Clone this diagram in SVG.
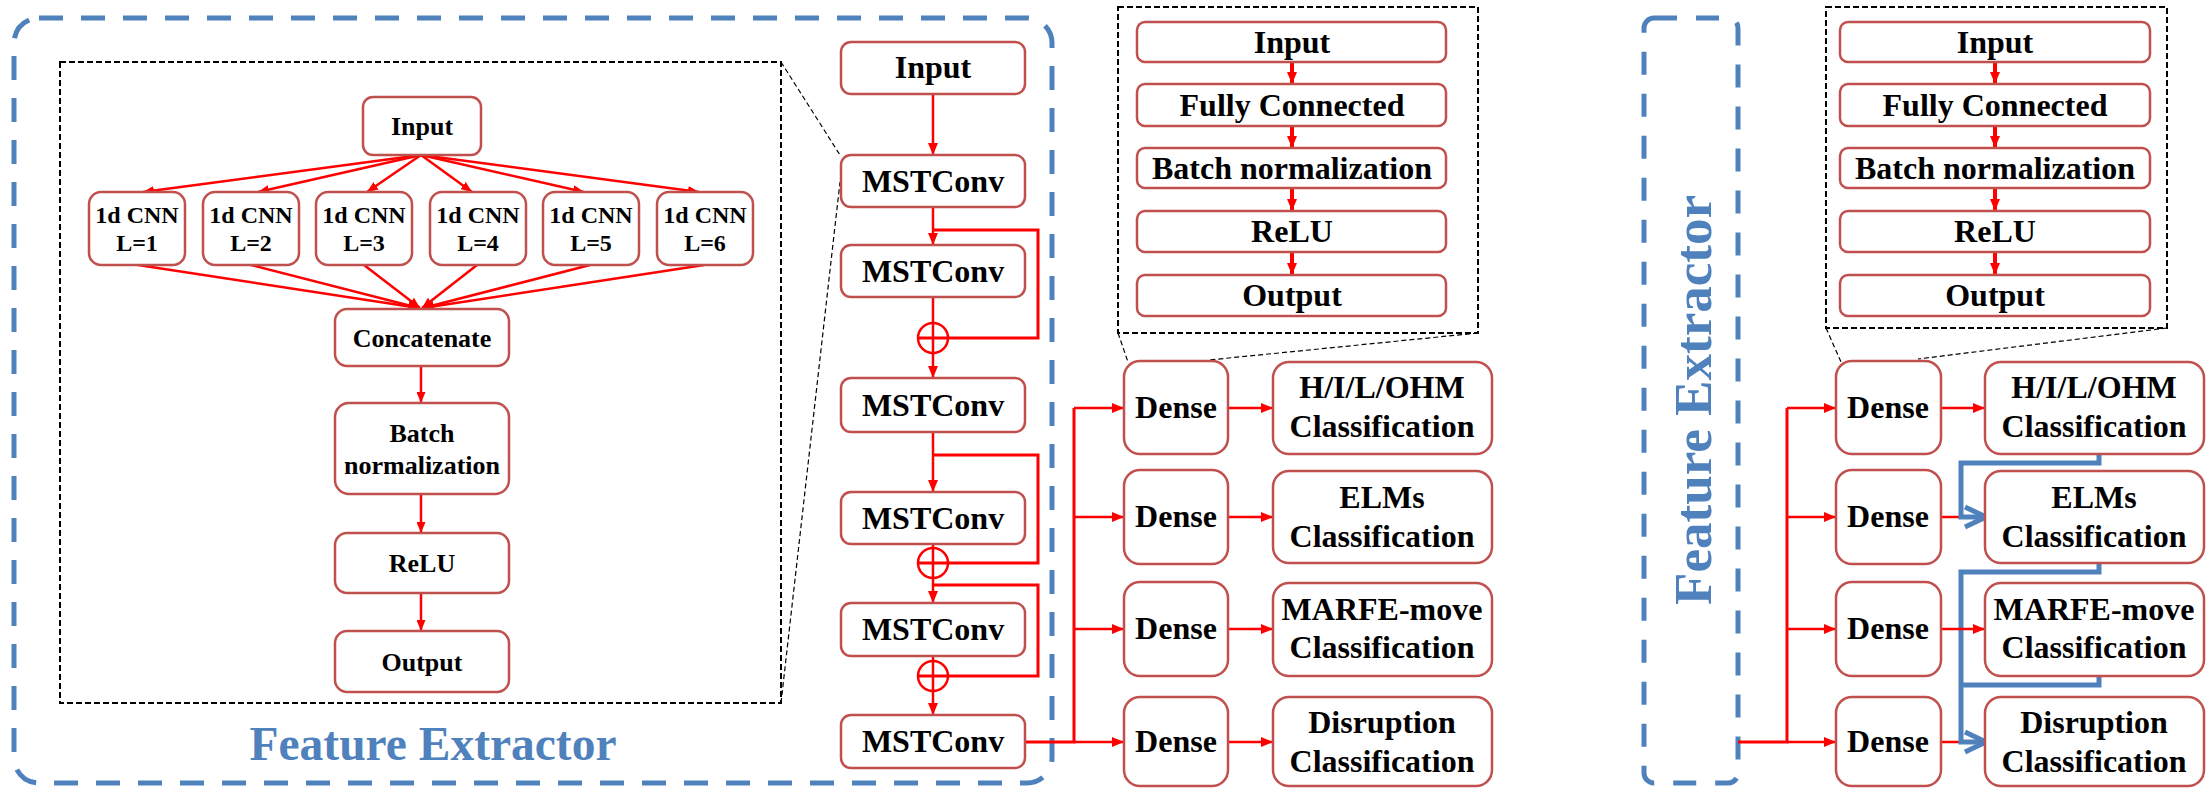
<svg xmlns="http://www.w3.org/2000/svg" width="2209" height="788" viewBox="0 0 2209 788">
<style>
.box{fill:#fff;stroke:#C0504D;stroke-width:2.5}
.t{font-family:"Liberation Serif","Times New Roman",serif;font-weight:bold;fill:#000;text-anchor:middle}
.t24{font-size:24px}.t26{font-size:26px}.t32{font-size:32px}
.red{fill:none;stroke:#FF0000;stroke-width:2.5}
.redT{fill:none;stroke:#FF0000;stroke-width:4}
.blue{fill:none;stroke:#4F81BD;stroke-width:5}
.bdash{fill:none;stroke:#4F81BD;stroke-width:5;stroke-dasharray:24 18}
.kdash{fill:none;stroke:#000;stroke-width:2;stroke-dasharray:6 3}
.zoom{fill:none;stroke:#000;stroke-width:1.2;stroke-dasharray:5 3}
.ftitle{font-family:"Liberation Serif","Times New Roman",serif;font-weight:bold;fill:#4F81BD;text-anchor:middle}
</style>
<defs>
<marker id="ah" markerUnits="userSpaceOnUse" markerWidth="12" markerHeight="10" refX="12" refY="5" orient="auto"><path d="M0,0 L12,5 L0,10 z" fill="#FF0000"/></marker>
<marker id="ahs" markerUnits="userSpaceOnUse" markerWidth="11" markerHeight="9" refX="11" refY="4.5" orient="auto"><path d="M0,0 L11,4.5 L0,9 z" fill="#FF0000"/></marker>
<marker id="ahb" markerUnits="userSpaceOnUse" markerWidth="30" markerHeight="30" refX="22" refY="15" orient="auto" overflow="visible"><path d="M1,5 L22,15 L1,25" fill="none" stroke="#4F81BD" stroke-width="5"/></marker>
</defs>

<!-- frames -->
<g id="feature-extractor-left">
<rect class="bdash" x="14" y="18" width="1038" height="765" rx="25"/>
<text class="ftitle" x="433" y="760" font-size="48" textLength="367" lengthAdjust="spacingAndGlyphs">Feature Extractor</text>
</g>
<g id="feature-extractor-right">
<rect class="bdash" x="1644" y="18" width="94" height="765" rx="10" style="stroke-dasharray:23 19"/>
<text class="ftitle" transform="translate(1711,400) rotate(-90)" x="0" y="0" font-size="53" textLength="410" lengthAdjust="spacingAndGlyphs">Feature Extractor</text>
</g>
<g id="detail-boxes">
<rect class="kdash" x="60" y="62" width="721" height="641"/>
<rect class="kdash" x="1118" y="7" width="360" height="326"/>
<rect class="kdash" x="1826" y="7" width="341" height="321"/>
<line class="zoom" x1="781" y1="62" x2="840" y2="155"/>
<line class="zoom" x1="781" y1="703" x2="840" y2="182"/>
<line class="zoom" x1="1118" y1="333" x2="1128" y2="362"/>
<line class="zoom" x1="1478" y1="333" x2="1209" y2="360"/>
<line class="zoom" x1="1826" y1="328" x2="1841" y2="362"/>
<line class="zoom" x1="2167" y1="328" x2="1918" y2="359"/>
</g>

<!-- connectors -->
<g id="connectors">
<line class="red" x1="421" y1="155" x2="143" y2="192" marker-end="url(#ahs)"/>
<line class="red" x1="421" y1="155" x2="258" y2="192" marker-end="url(#ahs)"/>
<line class="red" x1="421" y1="155" x2="367" y2="192" marker-end="url(#ahs)"/>
<line class="red" x1="421" y1="155" x2="472" y2="192" marker-end="url(#ahs)"/>
<line class="red" x1="421" y1="155" x2="584" y2="192" marker-end="url(#ahs)"/>
<line class="red" x1="421" y1="155" x2="699" y2="192" marker-end="url(#ahs)"/>
<line class="red" x1="138" y1="265" x2="419" y2="308" marker-end="url(#ahs)"/>
<line class="red" x1="251" y1="265" x2="419" y2="308" marker-end="url(#ahs)"/>
<line class="red" x1="364" y1="265" x2="420" y2="308" marker-end="url(#ahs)"/>
<line class="red" x1="477" y1="265" x2="422" y2="308" marker-end="url(#ahs)"/>
<line class="red" x1="590" y1="265" x2="423" y2="308" marker-end="url(#ahs)"/>
<line class="red" x1="704" y1="265" x2="423" y2="308" marker-end="url(#ahs)"/>
<line class="red" x1="421" y1="366" x2="421" y2="403" marker-end="url(#ahs)"/>
<line class="red" x1="421" y1="494" x2="421" y2="533" marker-end="url(#ahs)"/>
<line class="red" x1="421" y1="593" x2="421" y2="631" marker-end="url(#ahs)"/>
<line class="red" x1="933" y1="94" x2="933" y2="155" marker-end="url(#ah)"/>
<line class="red" x1="933" y1="207" x2="933" y2="245" marker-end="url(#ah)"/>
<line class="red" x1="933" y1="297" x2="933" y2="378" marker-end="url(#ah)"/>
<line class="red" x1="933" y1="432" x2="933" y2="492" marker-end="url(#ah)"/>
<line class="red" x1="933" y1="544" x2="933" y2="603" marker-end="url(#ah)"/>
<line class="red" x1="933" y1="656" x2="933" y2="715" marker-end="url(#ah)"/>
<path class="red" style="stroke-width:3" d="M933,230 H1038 V338 H918"/>
<path class="red" style="stroke-width:3" d="M933,455 H1038 V563 H918"/>
<path class="red" style="stroke-width:3" d="M933,585 H1038 V676 H918"/>
<circle cx="933" cy="338" r="15" fill="none" stroke="#FF0000" stroke-width="2.5"/>
<circle cx="933" cy="563" r="15" fill="none" stroke="#FF0000" stroke-width="2.5"/>
<circle cx="933" cy="676" r="15" fill="none" stroke="#FF0000" stroke-width="2.5"/>
<path class="red" style="stroke-width:3" d="M1025,742 H1074 V408"/>
<line class="red" x1="1074" y1="408" x2="1124" y2="408" marker-end="url(#ah)"/>
<line class="red" x1="1074" y1="517" x2="1124" y2="517" marker-end="url(#ah)"/>
<line class="red" x1="1074" y1="629" x2="1124" y2="629" marker-end="url(#ah)"/>
<line class="red" x1="1074" y1="742" x2="1124" y2="742" marker-end="url(#ah)"/>
<line class="red" x1="1228" y1="408" x2="1273" y2="408" marker-end="url(#ah)"/>
<line class="red" x1="1228" y1="517" x2="1273" y2="517" marker-end="url(#ah)"/>
<line class="red" x1="1228" y1="629" x2="1273" y2="629" marker-end="url(#ah)"/>
<line class="red" x1="1228" y1="742" x2="1273" y2="742" marker-end="url(#ah)"/>
<line class="redT" x1="1292" y1="62" x2="1292" y2="84" marker-end="url(#ah)"/>
<line class="redT" x1="1292" y1="126" x2="1292" y2="148" marker-end="url(#ah)"/>
<line class="redT" x1="1292" y1="188" x2="1292" y2="211" marker-end="url(#ah)"/>
<line class="redT" x1="1292" y1="252" x2="1292" y2="275" marker-end="url(#ah)"/>
<line class="redT" x1="1995" y1="62" x2="1995" y2="84" marker-end="url(#ah)"/>
<line class="redT" x1="1995" y1="126" x2="1995" y2="148" marker-end="url(#ah)"/>
<line class="redT" x1="1995" y1="188" x2="1995" y2="211" marker-end="url(#ah)"/>
<line class="redT" x1="1995" y1="252" x2="1995" y2="275" marker-end="url(#ah)"/>
<path class="red" style="stroke-width:3" d="M1738,742 H1787 V408"/>
<line class="red" x1="1787" y1="408" x2="1836" y2="408" marker-end="url(#ah)"/>
<line class="red" x1="1787" y1="517" x2="1836" y2="517" marker-end="url(#ah)"/>
<line class="red" x1="1787" y1="629" x2="1836" y2="629" marker-end="url(#ah)"/>
<line class="red" x1="1787" y1="742" x2="1836" y2="742" marker-end="url(#ah)"/>
<line class="red" x1="1941" y1="408" x2="1985" y2="408" marker-end="url(#ah)"/>
<line class="red" x1="1941" y1="517" x2="1961" y2="517"/>
<line class="red" x1="1941" y1="742" x2="1961" y2="742"/>
<path class="blue" d="M2099,454 V463 H1961 V517 H1986" marker-end="url(#ahb)"/>
<path class="blue" d="M2099,563 V572 H1961 V742 H1986" marker-end="url(#ahb)"/>
<path class="blue" d="M2099,676 V685 H1961"/>
<line class="red" x1="1941" y1="629" x2="1985" y2="629" marker-end="url(#ah)"/>
</g>

<g id="in-input"><rect class="box" x="363" y="97" width="118" height="58" rx="10"/><text class="t t26" x="422" y="135">Input</text></g>
<g id="cnn1"><rect class="box" x="89" y="192" width="96" height="73" rx="12"/><text class="t t24" x="137" y="223">1d CNN</text><text class="t t24" x="137" y="251">L=1</text></g>
<g id="cnn2"><rect class="box" x="203" y="192" width="96" height="73" rx="12"/><text class="t t24" x="251" y="223">1d CNN</text><text class="t t24" x="251" y="251">L=2</text></g>
<g id="cnn3"><rect class="box" x="316" y="192" width="96" height="73" rx="12"/><text class="t t24" x="364" y="223">1d CNN</text><text class="t t24" x="364" y="251">L=3</text></g>
<g id="cnn4"><rect class="box" x="430" y="192" width="96" height="73" rx="12"/><text class="t t24" x="478" y="223">1d CNN</text><text class="t t24" x="478" y="251">L=4</text></g>
<g id="cnn5"><rect class="box" x="543" y="192" width="96" height="73" rx="12"/><text class="t t24" x="591" y="223">1d CNN</text><text class="t t24" x="591" y="251">L=5</text></g>
<g id="cnn6"><rect class="box" x="657" y="192" width="96" height="73" rx="12"/><text class="t t24" x="705" y="223">1d CNN</text><text class="t t24" x="705" y="251">L=6</text></g>
<g id="in-concat"><rect class="box" x="335" y="309" width="174" height="57" rx="12"/><text class="t t26" x="422" y="347">Concatenate</text></g>
<g id="in-bn"><rect class="box" x="335" y="403" width="174" height="91" rx="14"/><text class="t t26" x="422" y="442">Batch</text><text class="t t26" x="422" y="474">normalization</text></g>
<g id="in-relu"><rect class="box" x="335" y="533" width="174" height="60" rx="12"/><text class="t t26" x="422" y="572">ReLU</text></g>
<g id="in-output"><rect class="box" x="335" y="631" width="174" height="61" rx="12"/><text class="t t26" x="422" y="671">Output</text></g>

<g id="input"><rect class="box" x="841" y="42" width="184" height="52" rx="10"/><text class="t t32" x="933" y="78">Input</text></g>
<g id="mst1"><rect class="box" x="841" y="155" width="184" height="52" rx="10"/><text class="t t32" x="933" y="192">MSTConv</text></g>
<g id="mst2"><rect class="box" x="841" y="245" width="184" height="52" rx="10"/><text class="t t32" x="933" y="282">MSTConv</text></g>
<g id="mst3"><rect class="box" x="841" y="378" width="184" height="54" rx="10"/><text class="t t32" x="933" y="416">MSTConv</text></g>
<g id="mst4"><rect class="box" x="841" y="492" width="184" height="52" rx="10"/><text class="t t32" x="933" y="529">MSTConv</text></g>
<g id="mst5"><rect class="box" x="841" y="603" width="184" height="53" rx="10"/><text class="t t32" x="933" y="640">MSTConv</text></g>
<g id="mst6"><rect class="box" x="841" y="715" width="184" height="53" rx="10"/><text class="t t32" x="933" y="752">MSTConv</text></g>

<g id="dense-m1"><rect class="box" x="1124" y="361" width="104" height="93" rx="16"/><text class="t t32" x="1176" y="418">Dense</text></g>
<g id="dense-m2"><rect class="box" x="1124" y="470" width="104" height="94" rx="16"/><text class="t t32" x="1176" y="527">Dense</text></g>
<g id="dense-m3"><rect class="box" x="1124" y="582" width="104" height="94" rx="16"/><text class="t t32" x="1176" y="639">Dense</text></g>
<g id="dense-m4"><rect class="box" x="1124" y="697" width="104" height="89" rx="16"/><text class="t t32" x="1176" y="752">Dense</text></g>
<g id="cls-m1"><rect class="box" x="1273" y="362" width="219" height="92" rx="16"/><text class="t t32" x="1382" y="398">H/I/L/OHM</text><text class="t t32" x="1382" y="437">Classification</text></g>
<g id="cls-m2"><rect class="box" x="1273" y="471" width="219" height="92" rx="16"/><text class="t t32" x="1382" y="508">ELMs</text><text class="t t32" x="1382" y="547">Classification</text></g>
<g id="cls-m3"><rect class="box" x="1273" y="583" width="219" height="93" rx="16"/><text class="t t32" x="1382" y="620">MARFE-move</text><text class="t t32" x="1382" y="658">Classification</text></g>
<g id="cls-m4"><rect class="box" x="1273" y="697" width="219" height="89" rx="16"/><text class="t t32" x="1382" y="733">Disruption</text><text class="t t32" x="1382" y="772">Classification</text></g>

<g id="dm-input"><rect class="box" x="1137" y="22" width="309" height="40" rx="8"/><text class="t t32" x="1292" y="53">Input</text></g>
<g id="dm-fc"><rect class="box" x="1137" y="84" width="309" height="42" rx="8"/><text class="t t32" x="1292" y="116">Fully Connected</text></g>
<g id="dm-bn"><rect class="box" x="1137" y="148" width="309" height="40" rx="8"/><text class="t t32" x="1292" y="179">Batch normalization</text></g>
<g id="dm-relu"><rect class="box" x="1137" y="211" width="309" height="41" rx="8"/><text class="t t32" x="1292" y="242">ReLU</text></g>
<g id="dm-output"><rect class="box" x="1137" y="275" width="309" height="41" rx="8"/><text class="t t32" x="1292" y="306">Output</text></g>

<g id="dr-input"><rect class="box" x="1840" y="22" width="310" height="40" rx="8"/><text class="t t32" x="1995" y="53">Input</text></g>
<g id="dr-fc"><rect class="box" x="1840" y="84" width="310" height="42" rx="8"/><text class="t t32" x="1995" y="116">Fully Connected</text></g>
<g id="dr-bn"><rect class="box" x="1840" y="148" width="310" height="40" rx="8"/><text class="t t32" x="1995" y="179">Batch normalization</text></g>
<g id="dr-relu"><rect class="box" x="1840" y="211" width="310" height="41" rx="8"/><text class="t t32" x="1995" y="242">ReLU</text></g>
<g id="dr-output"><rect class="box" x="1840" y="275" width="310" height="41" rx="8"/><text class="t t32" x="1995" y="306">Output</text></g>

<g id="dense-r1"><rect class="box" x="1836" y="361" width="105" height="93" rx="16"/><text class="t t32" x="1888" y="418">Dense</text></g>
<g id="dense-r2"><rect class="box" x="1836" y="470" width="105" height="94" rx="16"/><text class="t t32" x="1888" y="527">Dense</text></g>
<g id="dense-r3"><rect class="box" x="1836" y="582" width="105" height="94" rx="16"/><text class="t t32" x="1888" y="639">Dense</text></g>
<g id="dense-r4"><rect class="box" x="1836" y="697" width="105" height="89" rx="16"/><text class="t t32" x="1888" y="752">Dense</text></g>
<g id="cls-r1"><rect class="box" x="1985" y="362" width="219" height="92" rx="16"/><text class="t t32" x="2094" y="398">H/I/L/OHM</text><text class="t t32" x="2094" y="437">Classification</text></g>
<g id="cls-r2"><rect class="box" x="1985" y="471" width="219" height="92" rx="16"/><text class="t t32" x="2094" y="508">ELMs</text><text class="t t32" x="2094" y="547">Classification</text></g>
<g id="cls-r3"><rect class="box" x="1985" y="583" width="219" height="93" rx="16"/><text class="t t32" x="2094" y="620">MARFE-move</text><text class="t t32" x="2094" y="658">Classification</text></g>
<g id="cls-r4"><rect class="box" x="1985" y="697" width="219" height="89" rx="16"/><text class="t t32" x="2094" y="733">Disruption</text><text class="t t32" x="2094" y="772">Classification</text></g>
</svg>
